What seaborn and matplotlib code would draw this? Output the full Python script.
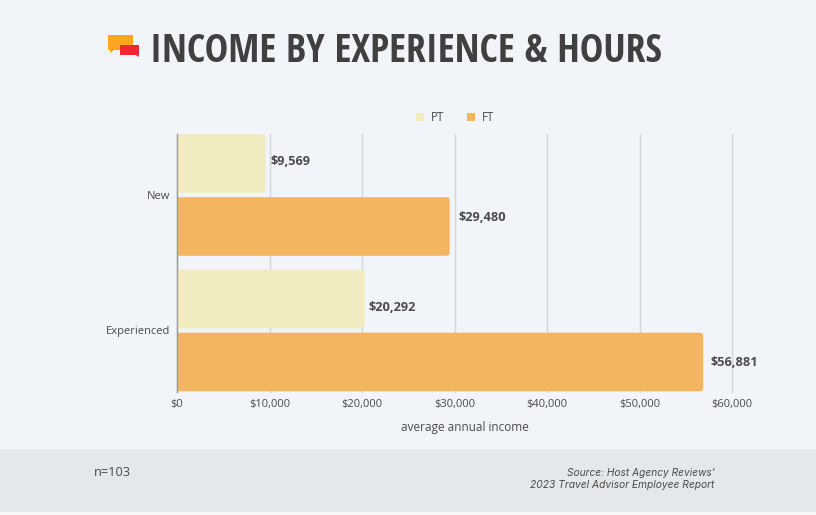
import pandas as pd
import seaborn as sns
import matplotlib.pyplot as plt
import matplotlib.font_manager as fm
from matplotlib.patches import FancyBboxPatch, Rectangle, Polygon
from matplotlib.ticker import FuncFormatter

categories = ['New', 'Experienced']
pt_values = [9569, 20292]
ft_values = [29480, 56881]
x_ticks = [0, 10000, 20000, 30000, 40000, 50000, 60000]

BG = '#f1f5f9'
FOOTER = '#e4e8eb'
TEXT = '#4a4a4a'
W, H = 816, 515

sns.set_theme(style='white')
plt.rcParams['font.family'] = ['Open Sans', 'DejaVu Sans']

# narrow face for the title, falls back to a plain one
installed = {f.name for f in fm.fontManager.ttflist}
title_font = 'Open Sans'
for name in ['Open Sans Condensed', 'Fira Sans Condensed', 'Noto Sans Condensed',
             'Roboto Condensed', 'Barlow Condensed', 'Asap Condensed', 'Archivo Narrow']:
    if name in installed:
        title_font = name
        break

df = pd.DataFrame({
    'experience': categories * 2,
    'hours': ['PT'] * 2 + ['FT'] * 2,
    'income': pt_values + ft_values,
})

fig = plt.figure(figsize=(W / 100, H / 100), dpi=100, facecolor=BG)
ax = fig.add_axes([177 / W, 1 - 392 / H, (732 - 177) / W, (392 - 134) / H])
ax.set_facecolor(BG)

# footer band
fig.patches.append(Rectangle((0, 1 - 512 / H), 1, 63 / H, transform=fig.transFigure,
                             color=FOOTER, lw=0, zorder=-5))
fig.patches.append(Rectangle((0, 0), 1, 3 / H, transform=fig.transFigure,
                             color='#f7f8f9', lw=0, zorder=-5))

sns.barplot(data=df, y='experience', x='income', hue='hours', order=categories,
            hue_order=['PT', 'FT'], palette=['#f2ebbf', '#f4b560'],
            width=0.93, gap=0.07, errorbar=None, saturation=1, legend=False, ax=ax, zorder=3)

ax.set_xlim(0, 60000)
ax.set_ylim(1.454, -0.45)

# label nudges in pixels, the labels don't sit centred on the bars
nudges = {9569: (5, -2), 20292: (4, 9), 29480: (9, -9), 56881: (7, 1)}

# swap square bars for ones with rounded right corners, left side clipped by the axes
px_x = 60000 / 555
px_y = 1 / 135.5
rx = 3 * px_x
for bar in list(ax.patches):
    x, y, w, h = bar.get_x(), bar.get_y(), bar.get_width(), bar.get_height()
    col = bar.get_facecolor()
    bar.set_visible(False)
    if w <= 0:
        continue
    ax.add_patch(FancyBboxPatch((-2 * rx, y), w + 2 * rx, h,
                                boxstyle=f'round,pad=0,rounding_size={rx}',
                                mutation_aspect=px_y / px_x, fc=col, ec='none', zorder=3))
    dx, dy = nudges[int(w)]
    ax.text(w + dx * px_x, y + h / 2 + dy * px_y, f'${w:,.0f}', va='center', ha='left',
            fontsize=9.2, fontweight='bold', color=TEXT, zorder=4)

ax.set_xticks(x_ticks)
ax.xaxis.set_major_formatter(FuncFormatter(lambda v, _: f'${v:,.0f}'))
ax.tick_params(axis='x', length=0, pad=5, labelsize=8, labelcolor=TEXT)
ax.tick_params(axis='y', length=0, pad=5, labelsize=8, labelcolor=TEXT)
ax.set_ylabel('')
ax.set_xlabel('average annual income', fontsize=8.5, color=TEXT)
ax.xaxis.set_label_coords((465 - 177) / 555, -(427.5 - 392) / 258, transform=ax.transAxes)
ax.xaxis.label.set_va('center')
ax.xaxis.grid(True, color='#d2d6d9', lw=1)
for line in ax.get_xgridlines():
    line.set_clip_on(False)
ax.set_axisbelow(True)
sns.despine(ax=ax, top=True, right=True, bottom=True)
ax.spines['left'].set_color('#9a9a9a')
ax.spines['left'].set_linewidth(1)
ax.spines['left'].set_zorder(5)

# legend
for px, col, label in [(420, '#f2ebbf', 'PT'), (471, '#f4b560', 'FT')]:
    fig.patches.append(Rectangle(((px - 4) / W, 1 - 121 / H), 8 / W, 8 / H,
                                 transform=fig.transFigure, color=col, lw=0))
    fig.text((px + 11) / W, 1 - 117.5 / H, label, fontsize=8.3, color=TEXT, va='center')

# title and logo
fig.text(149.5 / W, 1 - 51.5 / H, 'INCOME BY EXPERIENCE & HOURS', fontsize=28.5, fontweight='bold',
         family=[title_font, 'DejaVu Sans'], color='#404040', va='center')
fig.patches.append(Rectangle((108 / W, 1 - 50 / H), 25 / W, 15 / H, transform=fig.transFigure,
                             color='#fba61f', lw=0))
fig.patches.append(Polygon([(110 / W, 1 - 50 / H), (114 / W, 1 - 50 / H), (110 / W, 1 - 53 / H)],
                           transform=fig.transFigure, color='#fba61f', lw=0))
fig.patches.append(Rectangle((120 / W, 1 - 54.5 / H), 19 / W, 10 / H, transform=fig.transFigure,
                             color='#ee2833', lw=0))
fig.patches.append(Polygon([(135 / W, 1 - 54.5 / H), (139 / W, 1 - 54.5 / H), (138.5 / W, 1 - 57 / H)],
                           transform=fig.transFigure, color='#ee2833', lw=0))

# footer text
fig.text(94 / W, 1 - 472 / H, 'n=103', fontsize=9.2, color=TEXT, va='center')
fig.text(715 / W, 1 - 473 / H, "Source: Host Agency Reviews'", fontsize=7.3, style='italic',
         family=['Inter', 'DejaVu Sans'], color=TEXT, va='center', ha='right')
fig.text(530 / W, 1 - 485 / H, '2023 Travel Advisor Employee Report', fontsize=7.4, style='italic',
         family=['Inter', 'DejaVu Sans'], color=TEXT, va='center', ha='left')

fig.savefig('out.png', dpi=100, facecolor=BG)
